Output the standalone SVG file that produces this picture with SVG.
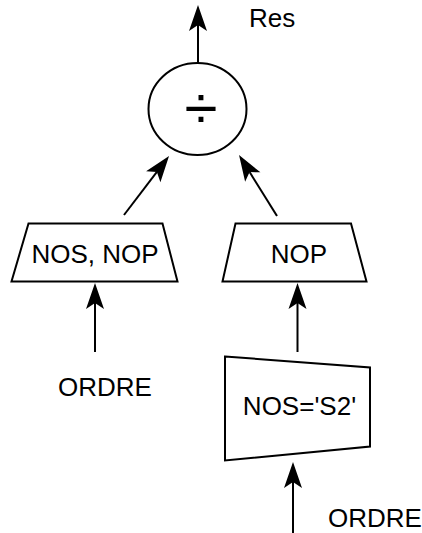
<svg xmlns="http://www.w3.org/2000/svg" width="422" height="533" viewBox="0 0 422 533">
  <style>
    .shape { fill: #ffffff; stroke: #000000; stroke-width: 2; }
    .edge { fill: none; stroke: #000000; stroke-width: 2; }
    .label { font-family: "Liberation Sans", Arial, sans-serif; font-size: 26px; fill: #000000; }
    .mid { text-anchor: middle; }
  </style>
  <defs>
    <marker id="arrow" markerUnits="userSpaceOnUse" markerWidth="30" markerHeight="24" refX="6" refY="0" orient="auto" overflow="visible">
      <path d="M26,0 L0,-9 L6,0 L0,9 Z" fill="#000000" stroke="none"/>
    </marker>
  </defs>
  <rect width="422" height="533" fill="#ffffff"/>

  <!-- connectors -->
  <g id="connectors">
    <line class="edge" x1="198" y1="63" x2="198" y2="25" marker-end="url(#arrow)"/>
    <line class="edge" x1="124" y1="215" x2="156.9" y2="171.9" marker-end="url(#arrow)"/>
    <line class="edge" x1="277" y1="216" x2="249.6" y2="172" marker-end="url(#arrow)"/>
    <line class="edge" x1="95" y1="352" x2="95" y2="303" marker-end="url(#arrow)"/>
    <line class="edge" x1="297.5" y1="352" x2="297.5" y2="303" marker-end="url(#arrow)"/>
    <line class="edge" x1="293" y1="533" x2="293" y2="482" marker-end="url(#arrow)"/>
  </g>

  <!-- division operator -->
  <g id="divide">
    <ellipse class="shape" cx="197.5" cy="109" rx="49" ry="46"/>
    <text class="label mid" x="201" y="128" style="font-size:60px">÷</text>
  </g>

  <!-- projection NOS, NOP -->
  <g id="proj-left">
    <polygon class="shape" points="28.5,223.5 162.5,223.5 177.5,281.5 11.5,281.5"/>
    <text class="label mid" x="95" y="263">NOS, NOP</text>
  </g>

  <!-- projection NOP -->
  <g id="proj-right">
    <polygon class="shape" points="235.5,223.5 351,223.5 366.5,281.5 222.5,281.5"/>
    <text class="label mid" x="299" y="263">NOP</text>
  </g>

  <!-- selection NOS='S2' -->
  <g id="select">
    <polygon class="shape" points="225,356.5 370,367.5 370,446.5 225,460.5"/>
    <text class="label mid" x="299.5" y="415">NOS='S2'</text>
  </g>

  <!-- sources and result labels -->
  <g id="res"><text class="label" x="249" y="27">Res</text></g>
  <g id="ordre-left"><text class="label" x="58" y="396">ORDRE</text></g>
  <g id="ordre-right"><text class="label" x="328" y="527">ORDRE</text></g>
</svg>
